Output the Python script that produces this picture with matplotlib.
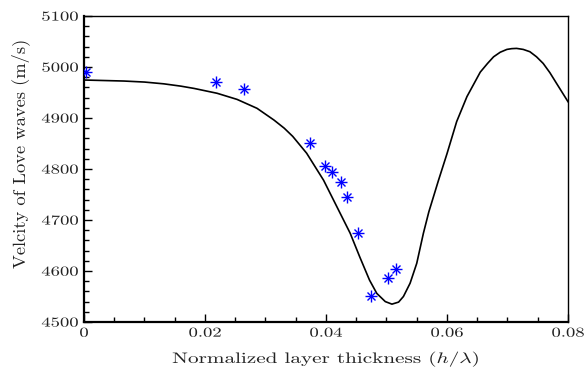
import matplotlib
matplotlib.use("Agg")
import matplotlib.pyplot as plt
from matplotlib.ticker import MultipleLocator
from matplotlib.patheffects import AbstractPathEffect
from matplotlib.transforms import Affine2D

plt.rcParams['font.family'] = 'serif'
plt.rcParams['font.serif'] = ['cmr10', 'DejaVu Serif']
plt.rcParams['mathtext.fontset'] = 'cm'
plt.rcParams['axes.formatter.use_mathtext'] = True

# Theoretical curve
curve_x = [0.0000, 0.0066, 0.0100, 0.0132, 0.0160, 0.0182, 0.0220, 0.0253, 0.0286,
           0.0314, 0.0331, 0.0345, 0.0368, 0.0396, 0.0418, 0.0440, 0.0456, 0.0472,
           0.0484, 0.0498, 0.0509, 0.0520, 0.0528, 0.0539, 0.0550, 0.0561, 0.0570,
           0.0586, 0.0600, 0.0616, 0.0633, 0.0655, 0.0667, 0.0677, 0.0688, 0.0699,
           0.0707, 0.0715, 0.0726, 0.0737, 0.0748, 0.0759, 0.0770, 0.0781, 0.0800]
curve_y = [4974.5, 4972.5, 4970.5, 4967, 4962.5, 4958, 4948.5, 4936.5, 4919,
           4896, 4880, 4864, 4831, 4778, 4726, 4674, 4627, 4582,
           4556, 4540, 4535, 4539, 4550, 4576, 4615, 4674, 4716,
           4778, 4830, 4893, 4942, 4990, 5007, 5020, 5029, 5034.5,
           5036, 5036.5, 5034.5, 5030, 5020, 5007, 4989, 4968, 4932]

# Measured data points
meas_x = [0.0003, 0.0218, 0.0264, 0.0374, 0.0399, 0.0410, 0.0424, 0.0435,
          0.0453, 0.0474, 0.0502, 0.0515]
meas_y = [4991, 4970.5, 4957.5, 4851.5, 4806, 4794, 4774.5, 4745.5,
          4674, 4551.5, 4585.5, 4604]

xticks = [0, 0.02, 0.04, 0.06, 0.08]
xticklabels = ['0', '0.02', '0.04', '0.06', '0.08']
yticks = [4500, 4600, 4700, 4800, 4900, 5000, 5100]


class HStretch(AbstractPathEffect):
    """Stretch rendered text horizontally (the reference text is wide)."""
    def __init__(self, sx, anchor='center'):
        super().__init__()
        self.sx = sx
        self.anchor = anchor

    def draw_path(self, renderer, gc, tpath, affine, rgbFace=None):
        ext = tpath.get_extents(affine)
        if self.anchor == 'right':
            cx = ext.x1
        else:
            cx = 0.5 * (ext.x0 + ext.x1)
        t = affine + Affine2D().translate(-cx, 0).scale(self.sx, 1).translate(cx, 0)
        renderer.draw_path(gc, tpath, t, rgbFace)


TXT = '#222222'
fig = plt.figure(figsize=(5.84, 3.69), dpi=100)
ax = fig.add_axes([0.1438, 0.1274, 0.8288, 0.8292])

ax.plot(curve_x, curve_y, color='black', lw=1.2, zorder=2)
ax.plot(meas_x, meas_y, linestyle='none', marker='+', ms=8, mew=1.0, color='blue', zorder=3)
ax.plot(meas_x, meas_y, linestyle='none', marker='x', ms=5.5, mew=1.0, color='blue', zorder=3)

ax.set_xlim(0, 0.08)
ax.set_ylim(4500, 5100)
ax.set_xticks(xticks)
ax.set_xticklabels(xticklabels)
ax.set_yticks(yticks)
ax.set_yticklabels([str(v) for v in yticks])
ax.xaxis.set_minor_locator(MultipleLocator(0.005))
ax.yaxis.set_minor_locator(MultipleLocator(20))
ax.tick_params(axis='both', which='both', direction='in', top=False, right=False,
               labelsize=9.8, colors='black', labelcolor=TXT)
ax.tick_params(which='major', length=6, width=1.0)
ax.tick_params(which='minor', length=3.5, width=1.0)
ax.tick_params(axis='x', pad=4)
ax.tick_params(axis='y', pad=4)
for s in ax.spines.values():
    s.set_linewidth(1.0)
for s in ['left', 'bottom']:
    ax.spines[s].set_linewidth(1.6)

for lab in ax.get_xticklabels():
    lab.set_path_effects([HStretch(1.37, 'center')])
for lab in ax.get_yticklabels():
    lab.set_path_effects([HStretch(1.37, 'right')])

ax.set_xlabel(r'Normalized layer thickness $(h/\lambda)$', fontsize=10.9, color=TXT)
ax.xaxis.label.set_path_effects([HStretch(1.40, 'center')])
ax.xaxis.set_label_coords(0.5, -0.088)

ax.set_ylabel('Velcity of Love waves (m/s)', fontsize=13.3, color=TXT)
ax.yaxis.label.set_va('center')
ax.yaxis.set_label_coords(-0.130, 0.55)

fig.savefig('out.png', dpi=100)
